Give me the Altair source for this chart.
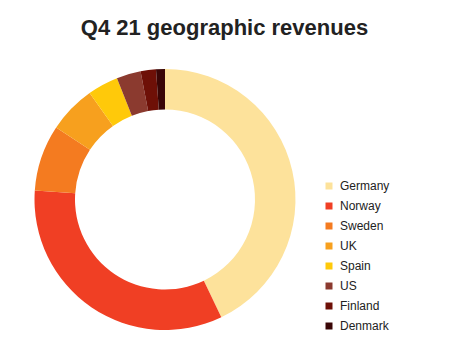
import altair as alt
import pandas as pd

countries = ["Germany", "Norway", "Sweden", "UK", "Spain", "US", "Finland", "Denmark"]
shares = [42.9, 33.2, 8.2, 5.9, 3.8, 3.0, 1.9, 1.1]
colors = ["#FDE29B", "#F03F24", "#F47B20", "#F7A01E", "#FFC90A", "#8B3A2F", "#6E1007", "#3A0606"]

df = pd.DataFrame({"country": countries, "share": shares, "order": list(range(len(countries)))})

chart = alt.Chart(df).mark_arc(radius=130.5, radius2=90, stroke="white", strokeWidth=0).encode(
    theta=alt.Theta("share:Q", stack=True),
    order=alt.Order("order:Q"),
    x=alt.value(165),
    y=alt.value(154.5),
    color=alt.Color(
        "country:N",
        scale=alt.Scale(domain=countries, range=colors),
        sort=countries,
        legend=alt.Legend(
            title=None,
            orient="none",
            legendX=323,
            legendY=135,
            symbolType="square",
            symbolSize=49,
            symbolStrokeWidth=0,
            labelFontSize=12,
            labelFont="Liberation Sans",
            labelColor="#222222",
            labelOffset=5,
            rowPadding=8,
            padding=0,
        ),
    ),
).properties(
    width=449,
    height=313,
    padding={"top": 45, "left": 0, "right": 0, "bottom": 0},
    autosize=alt.AutoSizeParams(type="none"),
    title=alt.TitleParams(
        "Q4 21 geographic revenues",
        font="Liberation Sans",
        fontSize=22,
        fontWeight="bold",
        color="#222222",
        anchor="middle",
        offset=5,
    ),
).configure_view(stroke=None)

chart.save("out.html", embed_options={"renderer": "svg", "actions": False})
